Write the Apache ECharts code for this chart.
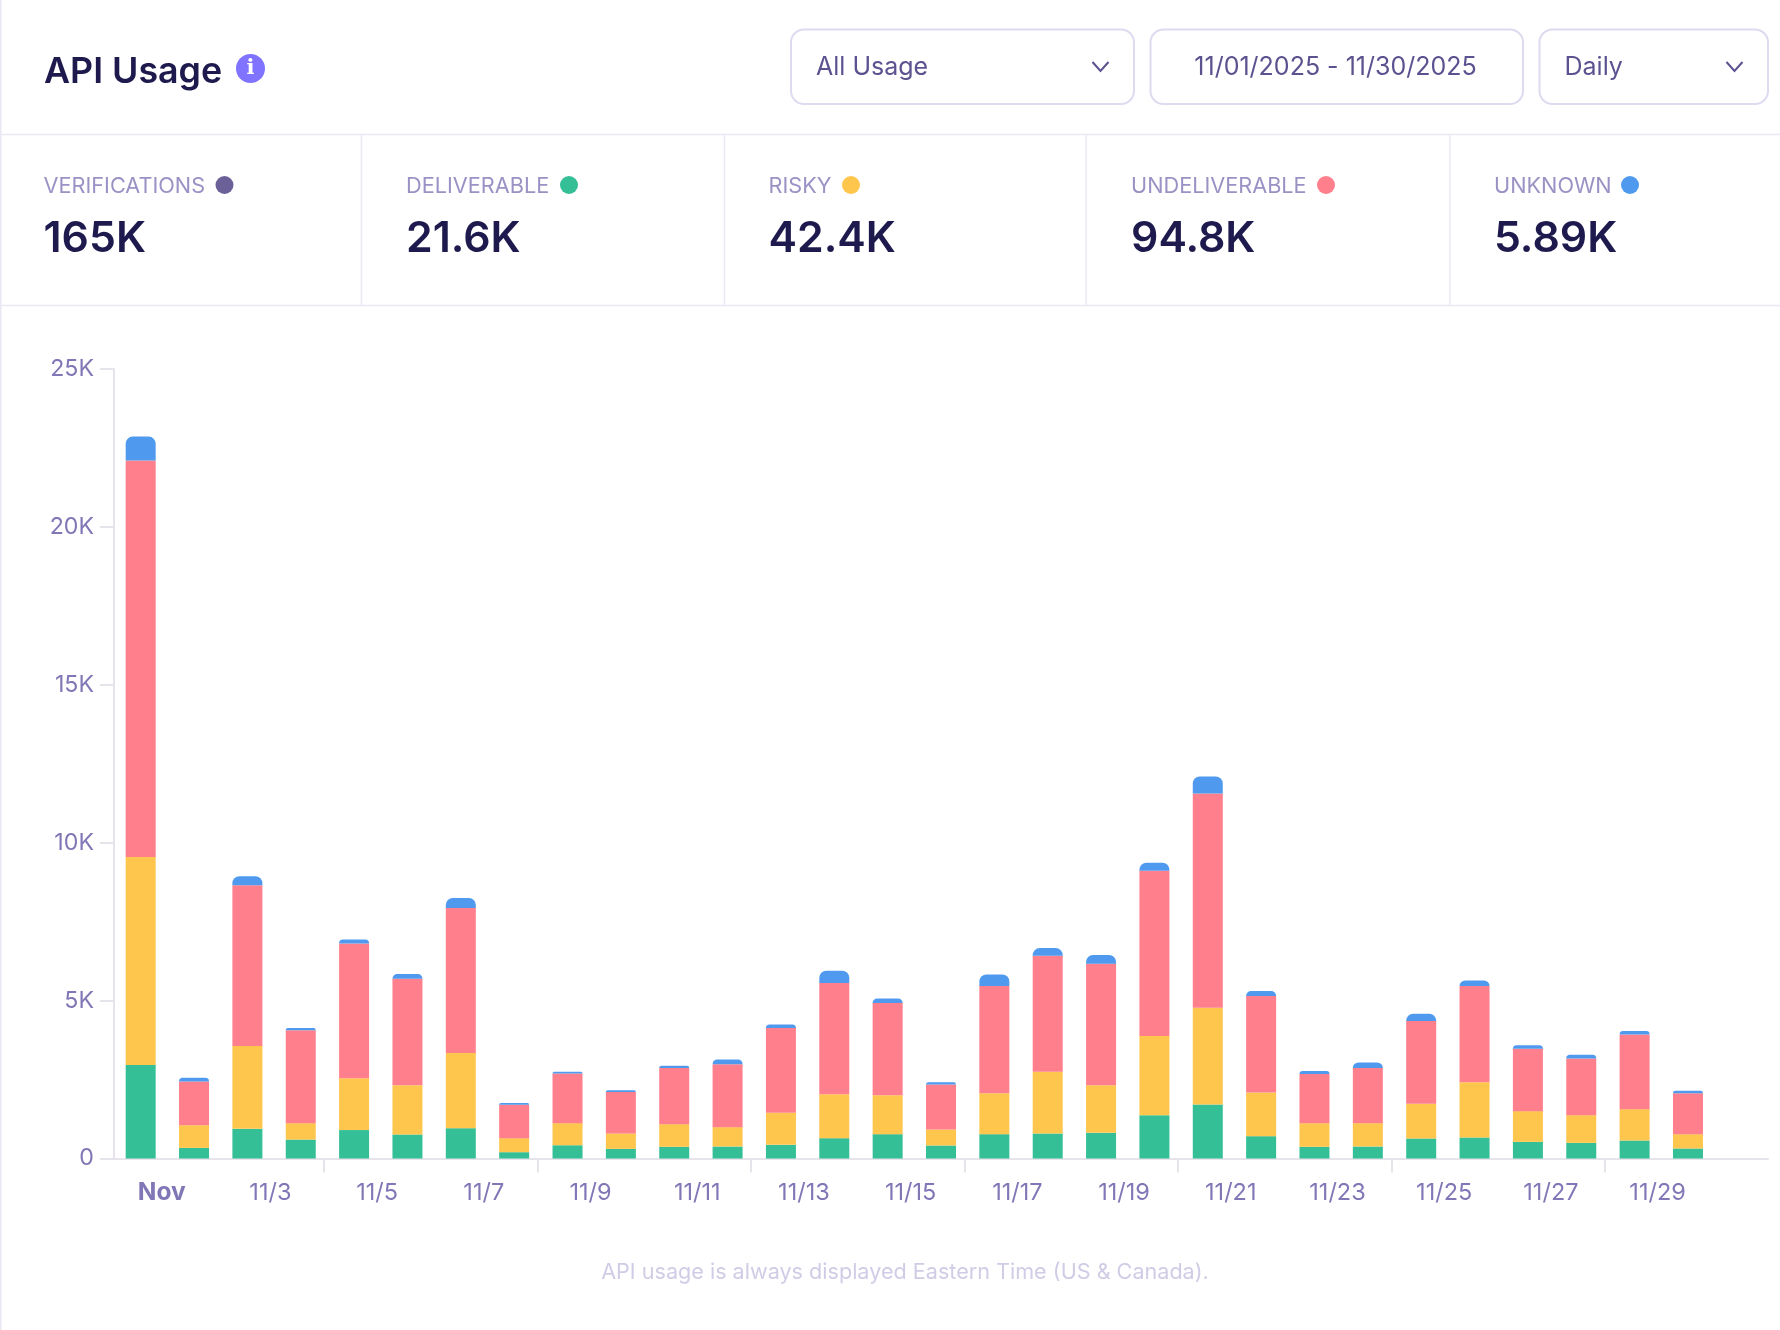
<!DOCTYPE html>
<html>
<head>
<meta charset="utf-8">
<title>API Usage</title>
<style>
  html, body { margin: 0; padding: 0; background: #fff; }
  #chart { width: 1780px; height: 1330px; }
</style>
<script src="https://cdn.jsdelivr.net/npm/echarts@6/dist/echarts.min.js"></script>
</head>
<body>
<div id="chart"></div>
<script>
// Daily verification counts for November 2025; the last band is left empty.
const categories = ['Nov','11/2','11/3','11/4','11/5','11/6','11/7','11/8','11/9','11/10','11/11','11/12','11/13','11/14','11/15','11/16','11/17','11/18','11/19','11/20','11/21','11/22','11/23','11/24','11/25','11/26','11/27','11/28','11/29','11/30',''];
const deliverable   = [2960,336,940,600,900,760,960,200,420,305,370,380,433,644,771,412,771,792,813,1373,1711,707,370,380,634,665,528,496,570,317];
const risky         = [6590,719,2620,520,1645,1560,2380,445,700,490,718,613,1014,1394,1235,507,1299,1954,1510,2503,3062,1384,749,739,1098,1753,972,877,993,454];
const undeliverable = [12550,1385,5090,2945,4265,3375,4590,1055,1575,1308,1774,1995,2682,3517,2915,1425,3390,3674,3844,5238,6787,3052,1553,1743,2619,3042,1974,1795,2365,1299];
const unknown       = [760,114,290,65,125,145,320,55,50,55,74,148,116,390,148,74,369,243,275,250,540,158,95,179,232,179,116,116,106,74];

const kpiLabels = ['VERIFICATIONS','DELIVERABLE','RISKY','UNDELIVERABLE','UNKNOWN'];
const kpiValues = ['165K','21.6K','42.4K','94.8K','5.89K'];
const titleText = 'API Usage';
const filterTexts = ['All Usage','11/01/2025 - 11/30/2025','Daily'];
const footnote = 'API usage is always displayed Eastern Time (US & Canada).';

const FONT = 'Inter, "Noto Sans", sans-serif';
const INK = '#1e1a4d';
const AXIS_TEXT = '#8077b6';
const RULE = '#eae8f4';
const AXIS_LINE = '#e6e4ea';
const COLORS = { deliverable:'#34bf97', risky:'#ffc64d', undeliverable:'#ff7f8c', unknown:'#4f9aef' };
const kpiDots = ['#6b6097', COLORS.deliverable, COLORS.risky, COLORS.undeliverable, COLORS.unknown];

// Header chrome: page frame, rules, dropdowns and the summary row.
const kpiX = [43.5, 406, 768.5, 1131, 1494];
const kpiDotX = [224.5, 569, 851, 1326, 1630];
const dividerX = [361.5, 724.5, 1086, 1450];
const boxes = [
  { x: 791, w: 343, textX: 816, align: 'left', chevron: 1100.5 },
  { x: 1150.5, w: 372.5, textX: 1335.5, align: 'center' },
  { x: 1539.5, w: 228.5, textX: 1564.5, align: 'left', chevron: 1734.5 }
];

const line = (x1, y1, x2, y2, color) => ({
  type: 'line', silent: true,
  shape: { x1, y1, x2, y2 },
  style: { stroke: color, lineWidth: 1.5 }
});
const label = (x, y, text, font, fill, align, verticalAlign) => ({
  type: 'text', silent: true, x, y,
  style: { text, font, fill, textAlign: align || 'left', textVerticalAlign: verticalAlign || 'middle' }
});

const graphic = [
  line(0.75, 0, 0.75, 1330, RULE),
  line(0, 134.5, 1780, 134.5, RULE),
  line(0, 305.5, 1780, 305.5, RULE),
  label(44, 90, titleText, '600 35.8px ' + FONT, INK, 'left', 'bottom'),
  { type: 'circle', silent: true, shape: { cx: 250.5, cy: 68.5, r: 14.5 }, style: { fill: '#7f73ff' } },
  label(250.5, 69, 'i', '700 21px "DejaVu Serif", serif', '#fff', 'center'),
  label(905, 1272, footnote, '400 21.6px ' + FONT, '#d0cce6', 'center')
];
dividerX.forEach(x => graphic.push(line(x, 135, x, 305, RULE)));
kpiLabels.forEach((t, i) => {
  graphic.push(label(kpiX[i], 186, t, '400 21.7px ' + FONT, '#9a92c5'));
  graphic.push({ type: 'circle', silent: true, shape: { cx: kpiDotX[i], cy: 185, r: 9 }, style: { fill: kpiDots[i] } });
  graphic.push(label(kpiX[i], 239.5, kpiValues[i], '600 42.8px ' + FONT, INK));
});
boxes.forEach((b, i) => {
  graphic.push({
    type: 'rect', silent: true,
    shape: { x: b.x, y: 29.5, width: b.w, height: 74.5, r: 13 },
    style: { fill: '#fff', stroke: '#dedbf0', lineWidth: 2 }
  });
  graphic.push(label(b.textX, 67, filterTexts[i], '400 25px ' + FONT, '#5b5390', b.align));
  if (b.chevron) {
    graphic.push({
      type: 'polyline', silent: true,
      shape: { points: [[b.chevron - 8, 62], [b.chevron, 71], [b.chevron + 8, 62]] },
      style: { stroke: '#5b5390', lineWidth: 2, fill: 'none' }
    });
  }
});

const makeSeries = (name, data, color, radius) => ({
  name, type: 'bar', stack: 'usage', data,
  barWidth: 30, silent: true,
  itemStyle: { color, borderRadius: radius || 0 }
});

const tickAt = [];
for (let v = 3.94; v < 31; v += 4) tickAt.push(+v.toFixed(2));

const chart = echarts.init(document.getElementById('chart'), null, { renderer: 'canvas' });
chart.setOption({
  animation: false,
  backgroundColor: '#fff',
  textStyle: { fontFamily: FONT },
  grid: { left: 114, right: 12, top: 369, bottom: 171.5, containLabel: false },
  xAxis: [
    {
      type: 'category', data: categories,
      axisLine: { lineStyle: { color: AXIS_LINE, width: 2 } },
      axisTick: { show: false },
      axisLabel: {
        interval: 1, margin: 22, padding: [0, 0, 0, 46],
        color: AXIS_TEXT, fontSize: 23.5, fontFamily: FONT,
        formatter: v => v === 'Nov' ? '{month|Nov}' : v,
        rich: { month: { fontWeight: 700, fontSize: 24.5, color: AXIS_TEXT, fontFamily: FONT, padding: [0, 4, 0, 0] } }
      }
    },
    {
      // Week separators sit just left of the band edges, so they get their own scale.
      type: 'value', min: 0, max: 31, position: 'bottom',
      axisLine: { show: false }, splitLine: { show: false },
      axisLabel: { show: false },
      axisTick: { show: true, length: 14, customValues: tickAt, lineStyle: { color: AXIS_LINE, width: 2 } }
    }
  ],
  yAxis: {
    type: 'value', min: 0, max: 25000, interval: 5000,
    axisLine: { show: true, lineStyle: { color: AXIS_LINE, width: 2 } },
    axisTick: { show: true, length: 14, lineStyle: { color: AXIS_LINE, width: 2 } },
    splitLine: { show: false },
    axisLabel: {
      margin: 20, color: AXIS_TEXT, fontSize: 23.2, fontFamily: FONT,
      formatter: v => v === 0 ? '0' : (v / 1000) + 'K'
    }
  },
  series: [
    makeSeries('Deliverable', deliverable, COLORS.deliverable),
    makeSeries('Risky', risky, COLORS.risky),
    makeSeries('Undeliverable', undeliverable, COLORS.undeliverable),
    makeSeries('Unknown', unknown, COLORS.unknown, [7, 7, 0, 0])
  ],
  graphic
});
</script>
</body>
</html>
